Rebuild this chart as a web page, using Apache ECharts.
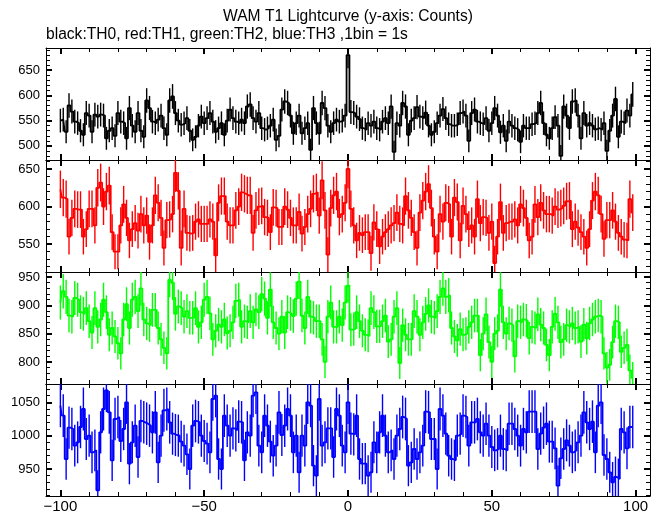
<!DOCTYPE html>
<html><head><meta charset="utf-8">
<script src="https://cdn.jsdelivr.net/npm/echarts@6/dist/echarts.min.js"></script>
<style>html,body{margin:0;padding:0;background:#fff}#c{width:662px;height:515px}</style>
</head><body><div id="c"></div>
<script>
// ---------- data ----------
const times = [
-100,-99,-98,-97,-96,-95,-94,-93,-92,-91,-90,-89,-88,-87,-86,-85,-84,-83,-82,-81,
-80,-79,-78,-77,-76,-75,-74,-73,-72,-71,-70,-69,-68,-67,-66,-65,-64,-63,-62,-61,
-60,-59,-58,-57,-56,-55,-54,-53,-52,-51,-50,-49,-48,-47,-46,-45,-44,-43,-42,-41,
-40,-39,-38,-37,-36,-35,-34,-33,-32,-31,-30,-29,-28,-27,-26,-25,-24,-23,-22,-21,
-20,-19,-18,-17,-16,-15,-14,-13,-12,-11,-10,-9,-8,-7,-6,-5,-4,-3,-2,-1,
0,1,2,3,4,5,6,7,8,9,10,11,12,13,14,15,16,17,18,19,
20,21,22,23,24,25,26,27,28,29,30,31,32,33,34,35,36,37,38,39,
40,41,42,43,44,45,46,47,48,49,50,51,52,53,54,55,56,57,58,59,
60,61,62,63,64,65,66,67,68,69,70,71,72,73,74,75,76,77,78,79,
80,81,82,83,84,85,86,87,88,89,90,91,92,93,94,95,96,97,98,99];

const th0 = [
550,
552,528,580,568,548,545,530,522,565,560,
528,562,558,562,560,515,530,535,520,565,
548,545,515,575,540,528,565,530,518,590,
575,548,545,552,560,535,522,590,598,565,
550,542,545,555,530,512,518,540,558,545,
555,565,548,528,535,545,522,550,572,555,
548,545,552,545,578,582,
555,548,565,535,532,535,540,552,512,520,
572,588,585,560,525,545,560,525,535,545,
492,575,545,525,585,575,540,528,545,552,
548,550,560,680,
567,565,558,553,535,532,545,540,548,535,
532,548,555,545,578,488,545,540,585,578,
522,550,555,577,558,555,566,540,522,528,
545,560,573,555,
543,540,540,543,565,568,560,510,565,572,
548,545,543,555,530,545,575,560,527,540,
510,548,540,535,532,508,540,535,535,543,
545,565,585,545,522,515,535,557,540,480,
578,560,535,588,590,560,515,565,540,545,
540,533,535,532,545,490,530,560,593,518,
548,545,570,560,602];

const th1 = [
623,612,610,560,585,597,596,596,560,570,
597,597,575,625,632,600,620,628,566,540,
540,575,603,585,555,570,578,568,590,575,
588,553,575,615,605,585,545,582,583,590,
645,621,545,597,565,564,565,580,583,577,
577,577,583,580,535,605,614,614,580,575,
575,595,600,619,617,615,
615,565,595,600,601,586,585,566,599,598,
573,573,600,596,585,575,575,593,564,573,
590,597,617,619,588,635,595,536,598,615,
620,586,590,605,650,
597,575,555,565,562,566,566,538,579,570,
547,560,566,570,575,578,592,577,575,614,
595,585,566,545,592,608,620,630,598,560,
540,590,580,605,
603,560,612,606,555,601,590,570,575,560,
610,578,586,585,565,580,525,560,606,565,
578,580,580,583,575,603,598,585,555,560,
603,586,605,595,590,590,588,600,596,598,
601,607,608,570,580,572,566,560,545,570,
608,620,615,590,557,582,582,595,580,565,
560,556,555,610,592];

const th2 = [
905,925,915,882,880,913,910,888,885,895,
872,852,895,862,875,910,888,848,860,845,
833,815,875,902,860,910,915,890,930,875,
868,865,892,892,860,840,825,815,945,940,
885,898,895,880,890,878,878,895,862,870,
910,915,886,840,855,866,862,875,851,855,
870,908,910,862,872,870,
890,870,893,888,920,912,878,928,870,860,
850,880,852,888,885,881,912,942,882,860,
915,880,878,872,872,840,800,880,905,862,
862,880,865,905,935,
857,858,888,872,855,848,846,895,888,863,
863,872,882,836,840,880,895,798,865,848,
840,840,890,880,848,870,885,900,880,878,
890,915,930,915,
918,860,845,838,858,848,850,862,870,882,
882,812,850,884,835,800,850,855,928,870,
850,868,865,810,872,870,875,873,842,862,
860,884,866,860,830,812,862,885,870,835,
840,865,862,868,860,862,836,866,842,868,
875,880,882,880,815,790,795,835,872,870,
818,825,830,785,772];

const th3 = [
1045,1030,965,1012,1010,985,990,1013,1040,995,
1000,975,978,918,1005,1040,1068,1035,963,1025,
1028,992,1010,1050,958,990,1015,968,1022,1020,
1018,1015,1005,1035,960,1000,1038,1040,1020,1003,
1001,1000,991,985,972,950,1015,1022,1020,1000,
992,988,975,1055,1060,965,950,1030,1015,1000,
1011,1008,1021,1020,963,1005,
1000,1060,1065,985,975,1030,1015,991,970,985,
1035,1001,1015,1040,1030,975,1000,945,1000,985,
1050,1045,955,940,1055,985,990,1011,1011,968,
1040,1030,985,975,1050,
1003,1002,1030,965,958,958,940,945,990,975,
1005,1030,1000,975,978,965,1000,1010,1028,1025,
955,960,980,965,975,985,1036,1035,995,995,
950,1040,1030,1003,
970,965,963,1000,1003,1030,1028,985,1020,1020,
1025,1005,1000,1018,1000,983,978,980,1000,980,
978,1018,1018,1010,1000,985,1010,1005,1036,1036,
1036,980,1003,1012,1018,991,991,981,925,966,
980,993,985,975,978,990,1000,1035,1020,1010,
1021,975,1045,1050,971,965,945,930,938,935,
1010,1005,981,1013,1013];

const xTicks = [-100, -50, 0, 50, 100];
const yTicks0 = [500, 550, 600, 650];
const yTicks1 = [550, 600, 650];
const yTicks2 = [800, 850, 900, 950];
const yTicks3 = [950, 1000, 1050];

const titleText = 'WAM T1 Lightcurve (y-axis: Counts)';
const subText = 'black:TH0, red:TH1, green:TH2, blue:TH3 ,1bin = 1s';

// ---------- layout / style ----------
const FONT = "'Liberation Sans', Arial, Helvetica, sans-serif";
const panels = [
  {data: th0, color: '#000000', min: 472, max: 694, ticks: yTicks0},
  {data: th1, color: '#ff0000', min: 513, max: 662, ticks: yTicks1},
  {data: th2, color: '#00ff00', min: 761, max: 959, ticks: yTicks2},
  {data: th3, color: '#0000ff', min: 909.5, max: 1077.5, ticks: yTicks3}
];
const tops = [48, 160, 272, 384];
const H = 112;
const XMIN = -105, XMAX = 105;

function minorList(lo, hi, step, majors) {
  const out = [];
  for (let v = Math.ceil(lo / step) * step; v <= hi; v += step) {
    if (majors.indexOf(v) < 0) out.push(v);
  }
  return out;
}
const fmtX = v => (v < 0 ? '\u2212' + Math.abs(v) : String(v));
const fmtY = v => String(v);

const grids = [], xAxes = [], yAxes = [], series = [];
const xMinor = minorList(XMIN, XMAX, 10, xTicks);
const line = {show: true, onZero: false, lineStyle: {color: '#000', width: 1}};
const noLine = {show: false, onZero: false};

panels.forEach((p, i) => {
  grids.push({left: 46, right: 12, top: tops[i], height: H, containLabel: false});
  const isLast = i === panels.length - 1;
  const baseX = {type: 'value', gridIndex: i, min: XMIN, max: XMAX, splitLine: {show: false}};
  xAxes.push(Object.assign({}, baseX, {position: 'bottom', axisLine: line,
    axisTick: {show: true, inside: true, length: 6, customValues: xTicks, lineStyle: {color: '#000', width: 2}},
    axisLabel: {show: isLast, customValues: xTicks, formatter: fmtX, color: '#000', fontSize: 15, fontFamily: FONT, margin: 3}}));
  xAxes.push(Object.assign({}, baseX, {position: 'top', axisLine: line,
    axisTick: {show: true, inside: true, length: 6, customValues: xTicks, lineStyle: {color: '#000', width: 2}},
    axisLabel: {show: false}}));
  xAxes.push(Object.assign({}, baseX, {position: 'bottom', axisLine: noLine,
    axisTick: {show: true, inside: true, length: 4, customValues: xMinor, lineStyle: {color: '#000', width: 1}},
    axisLabel: {show: false}}));
  xAxes.push(Object.assign({}, baseX, {position: 'top', axisLine: noLine,
    axisTick: {show: true, inside: true, length: 4, customValues: xMinor, lineStyle: {color: '#000', width: 1}},
    axisLabel: {show: false}}));

  const yMinor = minorList(p.min, p.max, 10, p.ticks);
  const baseY = {type: 'value', gridIndex: i, min: p.min, max: p.max, splitLine: {show: false}};
  yAxes.push(Object.assign({}, baseY, {position: 'left', axisLine: line,
    axisTick: {show: true, inside: true, length: 6, customValues: p.ticks, lineStyle: {color: '#000', width: 2}},
    axisLabel: {show: true, customValues: p.ticks, formatter: fmtY, color: '#000', fontSize: 13, fontFamily: FONT, margin: 6}}));
  yAxes.push(Object.assign({}, baseY, {position: 'right', axisLine: line,
    axisTick: {show: true, inside: true, length: 6, customValues: p.ticks, lineStyle: {color: '#000', width: 2}},
    axisLabel: {show: false}}));
  yAxes.push(Object.assign({}, baseY, {position: 'left', axisLine: noLine,
    axisTick: {show: true, inside: true, length: 4, customValues: yMinor, lineStyle: {color: '#000', width: 1}},
    axisLabel: {show: false}}));
  yAxes.push(Object.assign({}, baseY, {position: 'right', axisLine: noLine,
    axisTick: {show: true, inside: true, length: 4, customValues: yMinor, lineStyle: {color: '#000', width: 1}},
    axisLabel: {show: false}}));

  const pts = times.map((t, k) => [t, p.data[k]]);
  series.push({
    type: 'line', xAxisIndex: i * 4, yAxisIndex: i * 4, data: pts, step: 'middle',
    showSymbol: false, symbol: 'none', clip: true, silent: true,
    lineStyle: {color: p.color, width: 1.8}, itemStyle: {color: p.color}
  });
  series.push({
    type: 'custom', xAxisIndex: i * 4, yAxisIndex: i * 4, data: pts, clip: true, silent: true,
    renderItem: (params, api) => {
      const x = api.value(0), y = api.value(1), e = Math.sqrt(y);
      const a = api.coord([x, y - e]), b = api.coord([x, y + e]);
      return {type: 'line', shape: {x1: a[0], y1: a[1], x2: b[0], y2: b[1]},
        style: {stroke: p.color, lineWidth: 1.4}};
    }
  });
});

const chart = echarts.init(document.getElementById('c'), null, {renderer: 'canvas'});
chart.setOption({
  animation: false,
  backgroundColor: '#ffffff',
  grid: grids, xAxis: xAxes, yAxis: yAxes, series: series,
  graphic: [
    {type: 'text', x: 348, y: 9, style: {text: titleText, textAlign: 'center', fill: '#000', font: '15.6px ' + FONT}},
    {type: 'text', x: 46, y: 27, style: {text: subText, textAlign: 'left', fill: '#000', font: '15.6px ' + FONT}}
  ]
});
</script></body></html>
